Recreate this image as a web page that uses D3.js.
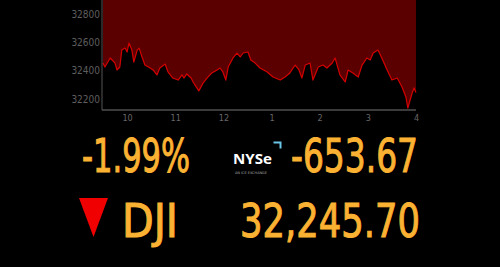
<!DOCTYPE html>
<html>
<head>
<meta charset="utf-8">
<script src="https://cdn.jsdelivr.net/npm/d3@7"></script>
<style>
  html, body { margin: 0; padding: 0; background: #000; }
  svg { display: block; }
</style>
</head>
<body>
<div id="chart"></div>
<script>
// intraday DJI, hour of day (decimal) and index level
const hours = [9.50, 9.54, 9.65, 9.75, 9.79, 9.85, 9.89, 9.96, 10.00, 10.04,
  10.10, 10.14, 10.21, 10.25, 10.31, 10.37, 10.48, 10.54, 10.62, 10.68,
  10.79, 10.85, 10.95, 11.06, 11.14, 11.18, 11.24, 11.33, 11.37, 11.49,
  11.58, 11.66, 11.76, 11.87, 11.93, 11.99, 12.05, 12.10, 12.20, 12.28,
  12.35, 12.41, 12.51, 12.57, 12.66, 12.76, 12.91, 13.03, 13.18, 13.28,
  13.38, 13.49, 13.57, 13.63, 13.70, 13.80, 13.86, 13.97, 14.07, 14.15,
  14.26, 14.32, 14.42, 14.53, 14.59, 14.69, 14.80, 14.88, 14.98, 15.05,
  15.11, 15.21, 15.29, 15.40, 15.50, 15.61, 15.71, 15.79, 15.83, 15.92,
  15.96, 16.00];
const levels = [32454, 32426, 32490, 32454, 32405, 32426, 32546, 32560, 32532, 32596,
  32546, 32461, 32546, 32560, 32497, 32440, 32419, 32405, 32370, 32419,
  32447, 32391, 32348, 32334, 32370, 32348, 32377, 32348, 32320, 32257,
  32313, 32348, 32384, 32405, 32419, 32391, 32334, 32426, 32490, 32525,
  32497, 32525, 32532, 32476, 32454, 32419, 32391, 32355, 32334, 32355,
  32384, 32440, 32405, 32348, 32440, 32454, 32334, 32426, 32440, 32419,
  32454, 32490, 32370, 32320, 32405, 32384, 32355, 32440, 32490, 32476,
  32525, 32546, 32490, 32405, 32334, 32348, 32285, 32214, 32136, 32242,
  32278, 32246];

const yTicks = [32200, 32400, 32600, 32800];
const xTicks = [10, 11, 12, 13, 14, 15, 16];
const xTickLabels = ["10", "11", "12", "1", "2", "3", "4"];

const pctChange = "-1.99%";
const ptsChange = "-653.67";
const symbol = "DJI";
const lastLevel = "32,245.70";

const W = 500, H = 267;
const plot = { left: 102, right: 416, top: 0, bottom: 110 };
const orange = "#fbb233";

const svg = d3.select("#chart").append("svg")
  .attr("width", W).attr("height", H);

svg.append("rect").attr("width", W).attr("height", H).attr("fill", "#000");

const x = d3.scaleLinear().domain([9.5, 16]).range([plot.left + 1, plot.right]);
const y = d3.scaleLinear().domain([32122, 32900]).range([plot.bottom, plot.top]);

const pts = hours.map((h, i) => ({ h: h, v: levels[i] }));

// red fill above the line
const area = d3.area()
  .x(d => x(d.h))
  .y0(plot.top)
  .y1(d => y(d.v));

svg.append("path")
  .datum(pts)
  .attr("d", area)
  .attr("fill", "#5a0000");

svg.append("path")
  .datum(pts)
  .attr("d", d3.line().x(d => x(d.h)).y(d => y(d.v)))
  .attr("fill", "none")
  .attr("stroke", "#d40000")
  .attr("stroke-width", 1.2)
  .attr("stroke-linejoin", "round");

// axes
const axisFont = "'Liberation Sans Narrow', 'DejaVu Sans Condensed', sans-serif";

const xAxis = d3.axisBottom(x)
  .tickValues(xTicks)
  .tickFormat((d, i) => xTickLabels[i])
  .tickSize(0)
  .tickPadding(5);

const gx = svg.append("g")
  .attr("transform", `translate(0,${plot.bottom})`)
  .call(xAxis);
gx.select(".domain").attr("stroke", "#777").attr("d", `M${plot.left},0H${plot.right}`);
gx.selectAll("text")
  .attr("fill", "#666")
  .style("font-family", axisFont)
  .style("font-size", "9px");

const yAxis = d3.axisLeft(y)
  .tickValues(yTicks)
  .tickFormat(d3.format("d"))
  .tickSize(0)
  .tickPadding(2);

const gy = svg.append("g")
  .attr("transform", `translate(${plot.left},0)`)
  .call(yAxis);
gy.select(".domain").attr("stroke", "#555").attr("d", `M0,${plot.top}V${plot.bottom}`);
gy.selectAll("text")
  .attr("fill", "#5e5e5e")
  .style("font-family", axisFont)
  .style("font-size", "10px");

// big ticker figures
function bigText(str, tx, ty, len) {
  svg.append("text")
    .attr("x", tx).attr("y", ty)
    .attr("fill", orange)
    .attr("stroke", orange)
    .attr("stroke-width", 1)
    .attr("textLength", len)
    .attr("lengthAdjust", "spacingAndGlyphs")
    .style("font-family", axisFont)
    .style("font-size", "46px")
    .text(str);
}
bigText(pctChange, 82, 172, 108);
bigText(ptsChange, 291, 172, 127);
bigText(symbol, 122, 237, 56);
bigText(lastLevel, 240, 237, 180);

// down arrow
svg.append("path")
  .attr("d", "M79,198L108,198L93.5,237Z")
  .attr("fill", "#f00000");

// NYSE logo
svg.append("text")
  .attr("x", 233).attr("y", 164)
  .attr("fill", "#fff")
  .attr("textLength", 39)
  .attr("lengthAdjust", "spacingAndGlyphs")
  .style("font-family", "'Open Sans', 'DejaVu Sans', sans-serif")
  .style("font-weight", "bold")
  .style("font-size", "15px")
  .text("NYSe");

svg.append("path")
  .attr("d", "M273.5,142.5H280.5V148.5")
  .attr("fill", "none")
  .attr("stroke", "#6cc6e8")
  .attr("stroke-width", 2);

svg.append("text")
  .attr("x", 235).attr("y", 174)
  .attr("fill", "#aaa")
  .attr("textLength", 32)
  .attr("lengthAdjust", "spacingAndGlyphs")
  .style("font-family", "'DejaVu Sans', sans-serif")
  .style("font-size", "3.5px")
  .text("AN ICE EXCHANGE");
</script>
</body>
</html>
